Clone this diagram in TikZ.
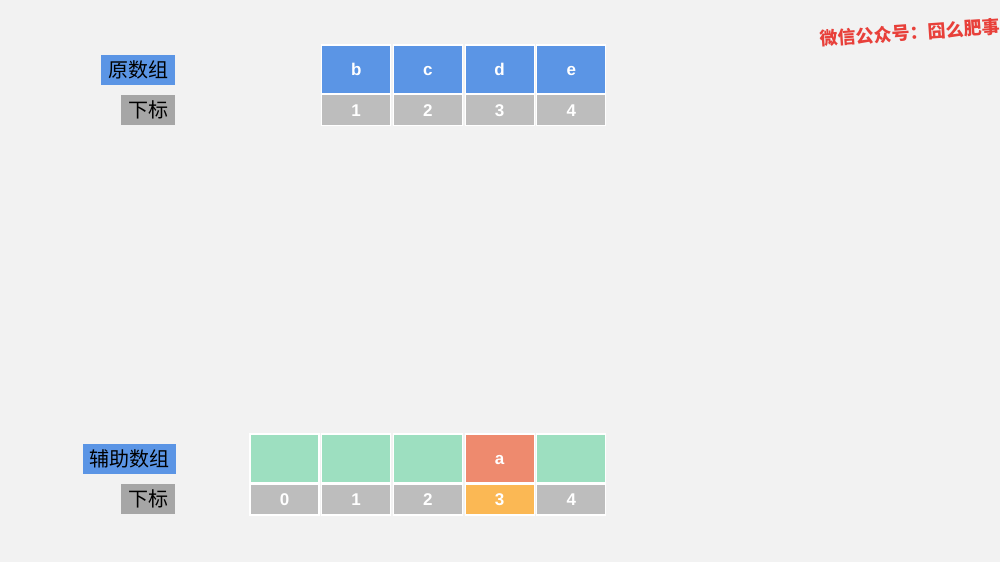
\documentclass[tikz,border=0pt]{standalone}
\usepackage{fontspec}
\setmainfont{Liberation Sans}
\newfontfamily\cjk{Noto Sans CJK SC}
\definecolor{bg}{HTML}{F2F2F2}
\definecolor{cblue}{HTML}{5B95E5}
\definecolor{cgray}{HTML}{BDBDBD}
\definecolor{lgray}{HTML}{A6A6A6}
\definecolor{cgreen}{HTML}{9DDFC0}
\definecolor{cred}{HTML}{EE8A6E}
\definecolor{corange}{HTML}{FBB854}
\definecolor{wmred}{HTML}{E8403A}
\begin{document}
\begin{tikzpicture}[x=1pt,y=-1pt,
  cell/.style={draw=white,line width=1.2pt,minimum width=69pt,inner sep=0pt,
    text height=12pt,text depth=0pt,
    text=white,font=\fontsize{17}{17}\selectfont\bfseries},
  valcell/.style={cell,minimum height=49pt},
  idxcell/.style={cell,minimum height=31pt},
  lab/.style={inner sep=0pt,minimum height=30pt,text=black,font=\cjk\fontsize{20}{20}\selectfont}]
\fill[bg] (0,0) rectangle (1000,562);
\useasboundingbox (0,0) rectangle (1000,562);
% labels
\node[lab,fill=cblue,minimum width=74pt] (l1) at (138,70) {原数组};
\node[lab,fill=lgray,minimum width=54pt] (l2) at (148,110) {下标};
\node[lab,fill=cblue,minimum width=93pt] (l3) at (129.5,459) {辅助数组};
\node[lab,fill=lgray,minimum width=54pt] (l4) at (148,499) {下标};
% top array
\foreach \i/\v [count=\k] in {1/b,2/c,3/d,4/e}{
  \node[valcell,fill=cblue] (t\k) at ({284.5+71.7*\i},69.5) {\v};
  \node[idxcell,fill=cgray] (ti\k) at ({284.5+71.7*\i},110) {\i};
}
% bottom array
\foreach \i in {0,1,2,4}{
  \node[valcell,fill=cgreen] (b\i) at ({284.5+71.7*\i},458.5) {};
  \node[idxcell,fill=cgray] (bi\i) at ({284.5+71.7*\i},499.5) {\i};
}
\node[valcell,fill=cred] (b3) at ({284.5+71.7*3},458.5) {a};
\node[idxcell,fill=corange] (bi3) at ({284.5+71.7*3},499.5) {3};
% watermark
\node[anchor=west,text=wmred,rotate=4,inner sep=0pt,font=\cjk\bfseries\fontsize{18}{18}\selectfont] (wm) at (820,39) {微信公众号：囧么肥事};
\end{tikzpicture}
\end{document}
